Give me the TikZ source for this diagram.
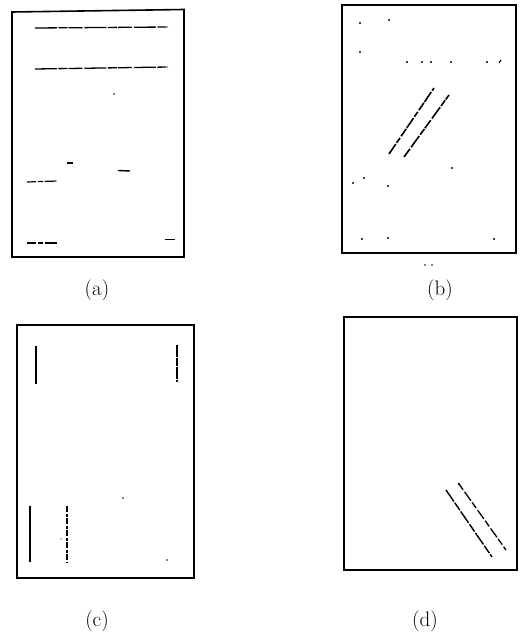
\documentclass[tikz,border=0pt]{standalone}
\begin{document}
\begin{tikzpicture}[x=1pt,y=-1pt,
  frame/.style={draw=black,line width=1.6pt},
  scanline/.style={draw=black,line width=1.3pt,dash pattern=on 22pt off 1.5pt on 9pt off 1pt on 14pt off 2pt},
  sparseline/.style={draw=black,line width=1.2pt,dash pattern=on 9pt off 2pt on 5pt off 1.5pt on 12pt off 2.5pt},
  speck/.style={fill=black},
  caption/.style={font=\fontsize{21}{25}\selectfont,inner sep=0pt}]
\useasboundingbox (0,0) rectangle (523,637);
% ---- panel (a)
\draw[frame] (12,12) -- (184,9.5) -- (184,257) -- (12,257) -- cycle;
\draw[scanline] (35,28) -- (168,27);
\draw[scanline] (35,69) -- (168,67);
\fill[speck] (114,94) circle (0.9);
\draw[line width=1.2pt] (67,163) -- (73,163);
\draw[line width=1.4pt] (118,170.5) -- (130,171);
\draw[sparseline] (27,182) -- (58,181);
\draw[sparseline] (27,243) -- (57,243);
\draw[line width=1.6pt] (165,239.5) -- (175,239.5);
\node[caption] (la) at (97,290) {(a)};
% ---- panel (b)
\draw[frame] (342,5) rectangle (516,253);
\foreach \p in {(360,23),(389,20),(360,52),(407,62),(422,62),(431,62),(451,62),(487,62),(452,168),(353,183),(364,178),(388,186),(362,239),(388,238),(494,239)}
  \fill[speck] \p circle (1.1);
\draw[line width=1.2pt] (499,63) -- (501,60);
\draw[line width=1.6pt,dash pattern=on 12pt off 1.5pt on 6pt off 2pt on 9pt off 1pt] (389,154) -- (434,88);
\draw[line width=1.6pt,dash pattern=on 10pt off 2pt on 14pt off 1.5pt on 7pt off 1pt] (404,157) -- (449,95);
\fill[speck] (425,265) circle (0.9);
\fill[speck] (432,265) circle (0.9);
\node[caption] (lb) at (440,290) {(b)};
% ---- panel (c)
\draw[frame] (17,325) rectangle (194,578);
\draw[line width=1.4pt] (36,346) -- (36,384);
\draw[line width=1.2pt,dash pattern=on 12pt off 1pt on 8pt off 1pt] (177,345) -- (177,382);
\draw[line width=1.1pt] (30,506) -- (30,562);
\draw[line width=1.2pt,dash pattern=on 6pt off 1.5pt on 3pt off 1.5pt] (67,506) -- (67,562);
\fill[speck] (123,498) circle (0.9);
\fill[speck] (167,560) circle (0.9);
\fill[speck] (61,539) circle (0.6);
\node[caption] (lc) at (97,621) {(c)};
% ---- panel (d)
\draw[frame] (344,317) rectangle (517,570);
\draw[line width=1.4pt,dash pattern=on 14pt off 1.5pt on 9pt off 1.5pt] (446,490) -- (492,557);
\draw[line width=1.3pt,dash pattern=on 7pt off 2.5pt on 11pt off 2pt] (459,484) -- (506,550);
\fill[speck] (459,484) circle (1.3);
\node[caption] (ld) at (425,621) {(d)};
\end{tikzpicture}
\end{document}
